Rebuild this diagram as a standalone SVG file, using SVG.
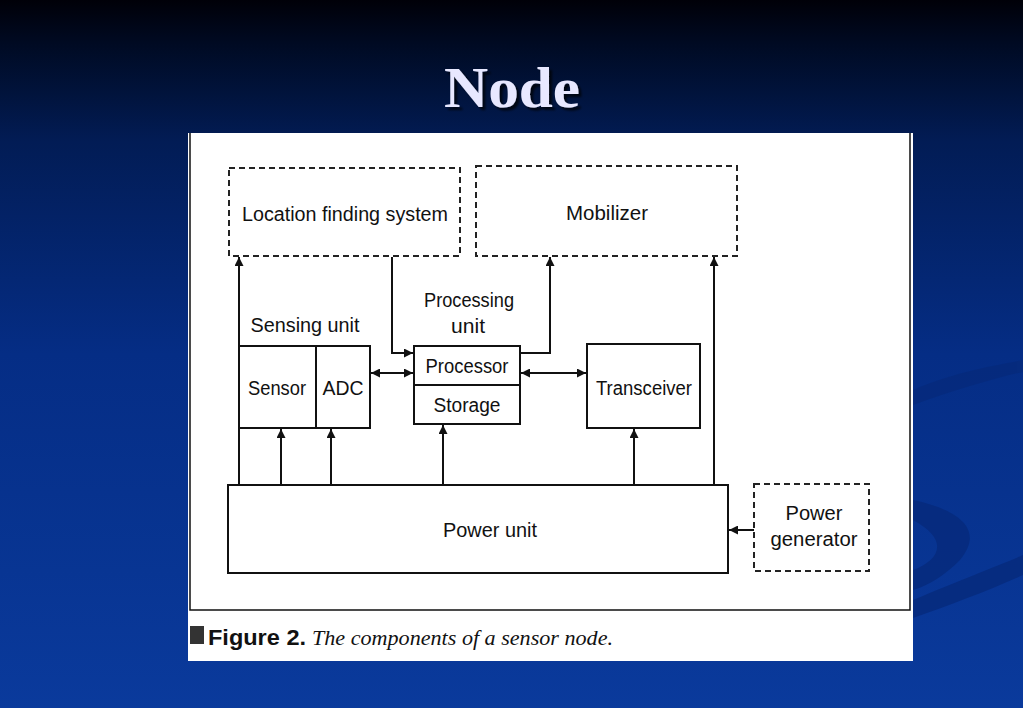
<svg xmlns="http://www.w3.org/2000/svg" width="1023" height="708" viewBox="0 0 1023 708">
<defs>
<linearGradient id="bg" x1="0" y1="0" x2="0" y2="1">
<stop offset="0" stop-color="#000008"/>
<stop offset="0.06" stop-color="#000a22"/>
<stop offset="0.2" stop-color="#021c55"/>
<stop offset="0.5" stop-color="#052d85"/>
<stop offset="1" stop-color="#0a3a9c"/>
</linearGradient>
<filter id="sh" x="-10%" y="-10%" width="130%" height="140%">
<feDropShadow dx="3" dy="3" stdDeviation="1" flood-color="#000" flood-opacity="0.7"/>
</filter>
<marker id="ah" viewBox="0 0 10 10" refX="10" refY="5" markerWidth="10" markerHeight="9" markerUnits="userSpaceOnUse" orient="auto-start-reverse">
<path d="M0,0 L10,5 L0,10 z" fill="#111"/>
</marker>
<style>
.box{fill:#fff;stroke:#111;stroke-width:2}
.dash{fill:#fff;stroke:#222;stroke-width:2;stroke-dasharray:6,4}
.ln{fill:none;stroke:#111;stroke-width:2}
.t{font-family:"Liberation Sans",Arial,sans-serif;font-size:20px;fill:#111;text-anchor:middle}
</style>
</defs>
<rect width="1023" height="708" fill="url(#bg)"/>
<g id="swooshes" fill="#062a7c" opacity="0.8">
<path d="M913,390 C960,370 1000,365 1023,360 L1023,372 C995,378 955,390 913,405 z"/>
<path d="M913,500 C960,510 985,530 960,560 C945,575 930,585 913,590 L913,570 C940,560 950,540 913,520 z"/>
<path d="M913,600 C960,580 1000,565 1023,555 L1023,575 C990,590 950,605 913,618 z"/>
</g>
<text x="512" y="107" font-family="'Liberation Serif','Times New Roman',serif" font-weight="bold" font-size="58" text-anchor="middle" fill="#e8e8ff" filter="url(#sh)" textLength="136" lengthAdjust="spacingAndGlyphs">Node</text>
<rect x="188" y="133" width="725" height="528" fill="#fff"/>
<g id="frame">
<path d="M190,133 V610 H910 V133" fill="none" stroke="#111" stroke-width="1.5"/>
</g>
<g id="connectors">
<path class="ln" d="M239,485 V257" marker-end="url(#ah)"/>
<path class="ln" d="M281,485 V429" marker-end="url(#ah)"/>
<path class="ln" d="M331,485 V429" marker-end="url(#ah)"/>
<path class="ln" d="M443,485 V425" marker-end="url(#ah)"/>
<path class="ln" d="M634,485 V429" marker-end="url(#ah)"/>
<path class="ln" d="M714,485 V257" marker-end="url(#ah)"/>
<path class="ln" d="M392,257 V353 H413" marker-end="url(#ah)"/>
<path class="ln" d="M521,353 H550 V257" marker-end="url(#ah)"/>
<path class="ln" d="M371,373 H413" marker-start="url(#ah)" marker-end="url(#ah)"/>
<path class="ln" d="M521,373 H586" marker-start="url(#ah)" marker-end="url(#ah)"/>
<path class="ln" d="M754,530 H729" marker-end="url(#ah)"/>
</g>
<g id="location">
<rect class="dash" x="229" y="168" width="231" height="88"/>
<text class="t" x="345" y="221" textLength="206" lengthAdjust="spacingAndGlyphs">Location finding system</text>
</g>
<g id="mobilizer">
<rect class="dash" x="476" y="166" width="261" height="90"/>
<text class="t" x="607" y="220" textLength="82" lengthAdjust="spacingAndGlyphs">Mobilizer</text>
</g>
<g id="sensing">
<text class="t" x="305" y="332" textLength="109" lengthAdjust="spacingAndGlyphs">Sensing unit</text>
<rect class="box" x="239" y="346" width="131" height="82"/>
<line class="ln" x1="316" y1="346" x2="316" y2="428"/>
<text class="t" x="277" y="395" textLength="58" lengthAdjust="spacingAndGlyphs">Sensor</text>
<text class="t" x="343" y="395" textLength="41" lengthAdjust="spacingAndGlyphs">ADC</text>
</g>
<g id="processing">
<text class="t" x="469" y="307" textLength="90" lengthAdjust="spacingAndGlyphs">Processing</text>
<text class="t" x="468" y="333" textLength="34" lengthAdjust="spacingAndGlyphs">unit</text>
<rect class="box" x="414" y="346" width="106" height="78"/>
<line class="ln" x1="414" y1="385" x2="520" y2="385"/>
<text class="t" x="467" y="373" textLength="83" lengthAdjust="spacingAndGlyphs">Processor</text>
<text class="t" x="467" y="412" textLength="67" lengthAdjust="spacingAndGlyphs">Storage</text>
</g>
<g id="transceiver">
<rect class="box" x="587" y="344" width="113" height="84"/>
<text class="t" x="644" y="395" textLength="96" lengthAdjust="spacingAndGlyphs">Transceiver</text>
</g>
<g id="power">
<rect class="box" x="228" y="485" width="500" height="88"/>
<text class="t" x="490" y="537" textLength="94" lengthAdjust="spacingAndGlyphs">Power unit</text>
</g>
<g id="generator">
<rect class="dash" x="754" y="484" width="115" height="87"/>
<text class="t" x="814" y="520" textLength="57" lengthAdjust="spacingAndGlyphs">Power</text>
<text class="t" x="814" y="546" textLength="87" lengthAdjust="spacingAndGlyphs">generator</text>
</g>
<g id="caption">
<rect x="190" y="626" width="14" height="18" fill="#333"/>
<text x="208" y="645" font-family="'Liberation Sans',Arial,sans-serif" font-weight="bold" font-size="22" fill="#111" textLength="98" lengthAdjust="spacingAndGlyphs">Figure 2.</text>
<text x="312" y="645" font-family="'Liberation Serif','Times New Roman',serif" font-style="italic" font-size="21" fill="#111" textLength="301" lengthAdjust="spacingAndGlyphs">The components of a sensor node.</text>
</g>
</svg>
